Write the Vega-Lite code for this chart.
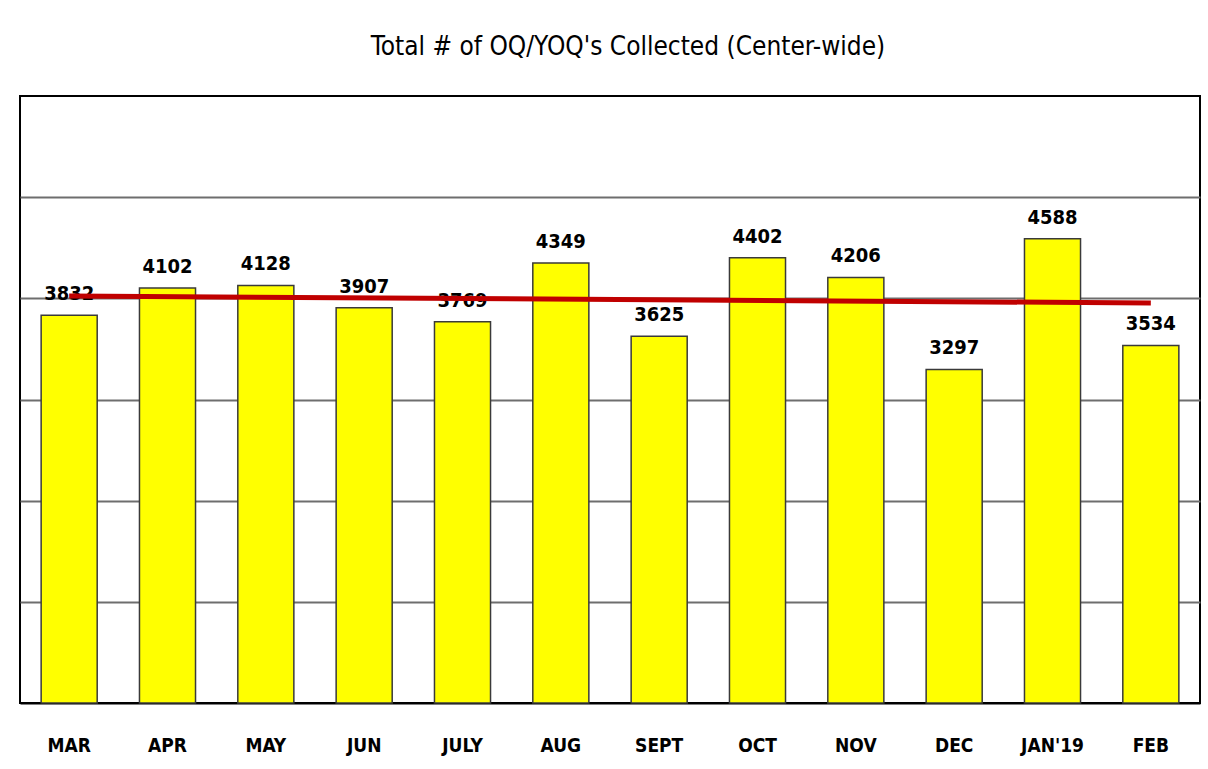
{
  "$schema": "https://vega.github.io/schema/vega-lite/v6.json",
  "width": 1180,
  "height": 607,
  "autosize": {"type": "none"},
  "padding": {"left": 20, "top": 96, "right": 8, "bottom": 66},
  "background": "white",
  "title": {
    "text": "Total # of OQ/YOQ's Collected (Center-wide)",
    "frame": "group",
    "anchor": "middle",
    "orient": "top",
    "offset": 36,
    "dx": 18,
    "font": "DejaVu Sans Condensed, sans-serif",
    "fontSize": 26,
    "fontWeight": "normal",
    "color": "#000000"
  },
  "config": {
    "view": {"stroke": "#000000", "strokeWidth": 2},
    "font": "DejaVu Sans Condensed, sans-serif"
  },
  "datasets": {
    "counts": [
      {"month": "MAR", "count": 3832},
      {"month": "APR", "count": 4102},
      {"month": "MAY", "count": 4128},
      {"month": "JUN", "count": 3907},
      {"month": "JULY", "count": 3769},
      {"month": "AUG", "count": 4349},
      {"month": "SEPT", "count": 3625},
      {"month": "OCT", "count": 4402},
      {"month": "NOV", "count": 4206},
      {"month": "DEC", "count": 3297},
      {"month": "JAN'19", "count": 4588},
      {"month": "FEB", "count": 3534}
    ],
    "trend": [
      {"month": "MAR", "trend": 4023},
      {"month": "FEB", "trend": 3954}
    ]
  },
  "layer": [
    {
      "data": {"name": "counts"},
      "mark": {"type": "bar", "fill": "#FFFF00", "stroke": "#3a3a3a", "strokeWidth": 1.5},
      "encoding": {
        "x": {
          "field": "month",
          "type": "nominal",
          "sort": null,
          "scale": {"paddingInner": 0.43, "paddingOuter": 0.215},
          "axis": {
            "title": null,
            "labelAngle": 0,
            "ticks": false,
            "tickSize": 0,
            "labelPadding": 33,
            "labelFont": "DejaVu Sans Condensed, sans-serif",
            "labelFontSize": 19,
            "labelFontWeight": "bold",
            "labelColor": "#000000",
            "domainColor": "#000000",
            "domainWidth": 2,
            "grid": false
          }
        },
        "y": {
          "field": "count",
          "type": "quantitative",
          "scale": {"domain": [0, 6000], "nice": false},
          "axis": {
            "title": null,
            "labels": false,
            "ticks": false,
            "domain": false,
            "values": [1000, 2000, 3000, 4000, 5000],
            "grid": true,
            "gridColor": "#6e6e6e",
            "gridWidth": 2,
            "gridOpacity": 1
          }
        }
      }
    },
    {
      "data": {"name": "counts"},
      "mark": {
        "type": "text",
        "baseline": "alphabetic",
        "dy": -15,
        "font": "DejaVu Sans Condensed, sans-serif",
        "fontSize": 20,
        "fontWeight": "bold",
        "color": "#000000"
      },
      "encoding": {
        "x": {"field": "month", "type": "nominal", "sort": null},
        "y": {"field": "count", "type": "quantitative"},
        "text": {"field": "count", "type": "quantitative", "format": "d"}
      }
    },
    {
      "data": {"name": "trend"},
      "mark": {"type": "line", "color": "#C00000", "strokeWidth": 5, "strokeCap": "butt"},
      "encoding": {
        "x": {"field": "month", "type": "nominal", "sort": null},
        "y": {"field": "trend", "type": "quantitative"}
      }
    }
  ]
}
